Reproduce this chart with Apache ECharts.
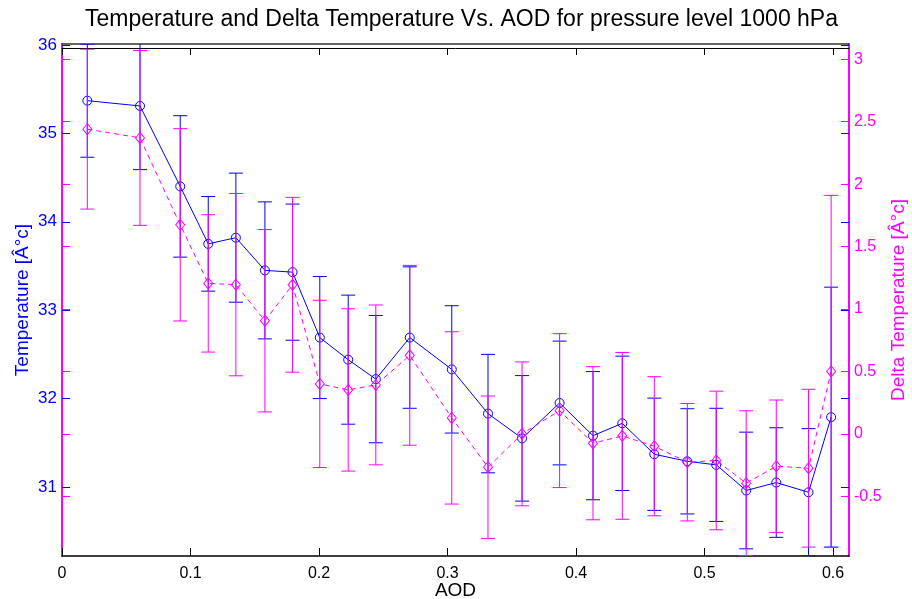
<!DOCTYPE html>
<html>
<head>
<meta charset="utf-8">
<script src="https://cdn.jsdelivr.net/npm/echarts@6/dist/echarts.min.js"></script>
<style>
html,body{margin:0;padding:0;background:#fff;}
#chart{width:912px;height:599px;}
</style>
</head>
<body>
<div id="chart"></div>
<script>
const titleText = 'Temperature and Delta Temperature Vs. AOD for pressure level 1000 hPa';
const xName = 'AOD';
const leftName = 'Temperature [Â°c]';
const rightName = 'Delta Temperature [Â°c]';

const aod = [0.0197, 0.0607, 0.0920, 0.1138, 0.1353, 0.1579, 0.1794, 0.2006, 0.2227, 0.2442, 0.2706, 0.3033,
             0.3315, 0.3580, 0.3872, 0.4132, 0.4360, 0.4609, 0.4866, 0.5091, 0.5324, 0.5558, 0.5809, 0.5985];
const temp = [35.37, 35.31, 34.40, 33.75, 33.82, 33.45, 33.43, 32.69, 32.44, 32.22, 32.69, 32.33,
              31.83, 31.55, 31.95, 31.58, 31.72, 31.37, 31.29, 31.25, 30.96, 31.05, 30.94, 31.79];
const tempErr = [0.64, 0.72, 0.80, 0.535, 0.73, 0.775, 0.77, 0.69, 0.73, 0.72, 0.80, 0.72,
                 0.67, 0.71, 0.70, 0.725, 0.76, 0.635, 0.595, 0.64, 0.66, 0.62, 0.72, 1.47];
const delta = [2.44, 2.37, 1.674, 1.205, 1.195, 0.906, 1.194, 0.40, 0.352, 0.392, 0.629, 0.128,
               -0.267, 0.0, 0.186, -0.075, -0.016, -0.099, -0.227, -0.213, -0.395, -0.259, -0.275, 0.50];
const deltaErr = [0.64, 0.70, 0.77, 0.55, 0.73, 0.73, 0.70, 0.67, 0.65, 0.64, 0.72, 0.69,
                  0.57, 0.576, 0.616, 0.613, 0.668, 0.557, 0.47, 0.555, 0.58, 0.53, 0.632, 1.41];

const xTicks = [0, 0.1, 0.2, 0.3, 0.4, 0.5, 0.6];
const leftTicks = [31, 32, 33, 34, 35, 36];
const rightTicks = [-0.5, 0, 0.5, 1, 1.5, 2, 2.5, 3];

const X_MIN = 0, X_MAX = 0.6124;
const L_MIN = 30.219, L_MAX = 36.011;
const R_MIN = -0.978, R_MAX = 3.122;

const BLUE = '#0000ff';
const MAG = '#ff00ff';
const FONT = '"Liberation Sans", Arial, Helvetica, sans-serif';

function errRender(color) {
  return function (params, api) {
    const x = api.value(0);
    const lo = api.coord([x, api.value(1)]);
    const hi = api.coord([x, api.value(2)]);
    const w = 7;
    const style = { stroke: color, lineWidth: 1, fill: null };
    return {
      type: 'group',
      children: [
        { type: 'line', shape: { x1: lo[0], y1: lo[1], x2: hi[0], y2: hi[1] }, style: style },
        { type: 'line', shape: { x1: hi[0] - w, y1: hi[1], x2: hi[0] + w, y2: hi[1] }, style: style },
        { type: 'line', shape: { x1: lo[0] - w, y1: lo[1], x2: lo[0] + w, y2: lo[1] }, style: style }
      ]
    };
  };
}

const tempErrData = aod.map((x, i) => [x, temp[i] - tempErr[i], temp[i] + tempErr[i]]);
const deltaErrData = aod.map((x, i) => [x, delta[i] - deltaErr[i], delta[i] + deltaErr[i]]);
const tempData = aod.map((x, i) => [x, temp[i]]);
const deltaData = aod.map((x, i) => [x, delta[i]]);

const chart = echarts.init(document.getElementById('chart'), null, { renderer: 'canvas' });

const option = {
  animation: false,
  backgroundColor: '#ffffff',
  textStyle: { fontFamily: FONT },
  title: {
    text: titleText,
    left: 80,
    top: 3,
    textStyle: { fontFamily: FONT, fontSize: 23, fontWeight: 'normal', color: '#000' }
  },
  grid: { left: 62, right: 63, top: 44, bottom: 43, outerBoundsMode: 'none', containLabel: false },
  xAxis: [
    {
      type: 'value', position: 'bottom', min: X_MIN, max: X_MAX,
      name: xName, nameLocation: 'middle', nameGap: 25, nameMoveOverlap: false,
      nameTextStyle: { fontFamily: FONT, fontSize: 19, color: '#000' },
      axisLine: { show: true, onZero: false, lineStyle: { color: '#000', width: 1.5 } },
      axisTick: { show: true, inside: true, length: 8, customValues: xTicks, lineStyle: { color: '#000' } },
      axisLabel: { customValues: xTicks, fontSize: 16, color: '#000', margin: 10, fontFamily: FONT },
      splitLine: { show: false }
    },
    {
      type: 'value', position: 'top', min: X_MIN, max: X_MAX,
      axisLine: { show: true, onZero: false, lineStyle: { color: '#333', width: 1.5 } },
      axisTick: { show: false }, axisLabel: { show: false }, splitLine: { show: false }
    },
    {
      type: 'value', position: 'top', offset: -4, min: X_MIN, max: X_MAX,
      axisLine: { show: true, onZero: false, lineStyle: { color: '#000', width: 1 } },
      axisTick: { show: true, inside: true, length: 7, customValues: xTicks, lineStyle: { color: '#000' } },
      axisLabel: { show: false }, splitLine: { show: false }
    }
  ],
  yAxis: [
    {
      type: 'value', position: 'left', min: L_MIN, max: L_MAX,
      name: leftName, nameLocation: 'middle', nameGap: 30, nameMoveOverlap: false,
      nameTextStyle: { fontFamily: FONT, fontSize: 19, color: BLUE },
      axisLine: { show: true, onZero: false, lineStyle: { color: MAG, width: 2 } },
      axisTick: { show: true, inside: true, length: 8, customValues: leftTicks, lineStyle: { color: BLUE } },
      axisLabel: { customValues: leftTicks, color: BLUE, fontSize: 17, margin: 5, fontFamily: FONT },
      splitLine: { show: false }
    },
    {
      type: 'value', position: 'right', min: R_MIN, max: R_MAX,
      name: rightName, nameLocation: 'middle', nameGap: 40, nameMoveOverlap: false,
      nameTextStyle: { fontFamily: FONT, fontSize: 19, color: MAG },
      axisLine: { show: true, onZero: false, lineStyle: { color: MAG, width: 2 } },
      axisTick: { show: true, inside: true, length: 8, customValues: rightTicks, lineStyle: { color: MAG } },
      axisLabel: { customValues: rightTicks, color: MAG, fontSize: 16, margin: 5, fontFamily: FONT },
      splitLine: { show: false }
    },
    {
      type: 'value', position: 'left', min: R_MIN, max: R_MAX,
      axisLine: { show: false, onZero: false },
      axisTick: { show: true, inside: true, length: 8, customValues: rightTicks, lineStyle: { color: MAG } },
      axisLabel: { show: false }, splitLine: { show: false }
    },
    {
      type: 'value', position: 'right', min: L_MIN, max: L_MAX,
      axisLine: { show: false, onZero: false },
      axisTick: { show: true, inside: true, length: 8, customValues: leftTicks, lineStyle: { color: BLUE } },
      axisLabel: { show: false }, splitLine: { show: false }
    }
  ],
  series: [
    {
      type: 'custom', name: 'TempErr', xAxisIndex: 0, yAxisIndex: 0, clip: true,
      renderItem: errRender(BLUE), encode: { x: 0, y: [1, 2] }, data: tempErrData, z: 2
    },
    {
      type: 'line', name: 'Temperature', xAxisIndex: 0, yAxisIndex: 0,
      data: tempData, symbol: 'circle', symbolSize: 9, showAllSymbol: true,
      lineStyle: { color: BLUE, width: 1 },
      itemStyle: { color: 'rgba(0,0,0,0)', borderColor: BLUE, borderWidth: 1 },
      z: 3
    },
    {
      type: 'custom', name: 'DeltaErr', xAxisIndex: 0, yAxisIndex: 1, clip: true,
      renderItem: errRender(MAG), encode: { x: 0, y: [1, 2] }, data: deltaErrData, z: 4
    },
    {
      type: 'line', name: 'Delta Temperature', xAxisIndex: 0, yAxisIndex: 1,
      data: deltaData, symbol: 'diamond', symbolSize: [9, 11], showAllSymbol: true,
      lineStyle: { color: MAG, width: 1, type: [5, 4] },
      itemStyle: { color: 'rgba(0,0,0,0)', borderColor: MAG, borderWidth: 1 },
      z: 5
    }
  ]
};
chart.setOption(option);
</script>
</body>
</html>
